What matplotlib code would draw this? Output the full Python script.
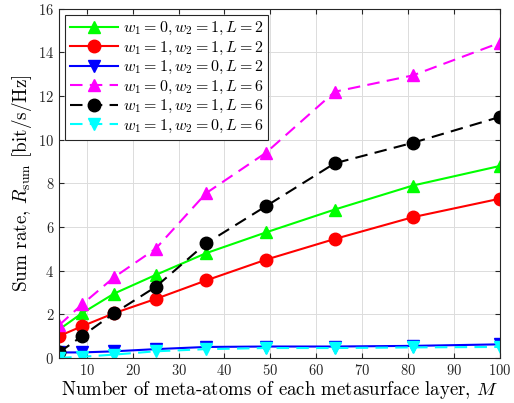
import matplotlib
matplotlib.use("Agg")
import matplotlib.pyplot as plt

plt.rcParams["font.family"] = ["cmr10", "DejaVu Serif"]
plt.rcParams["mathtext.fontset"] = "cm"
plt.rcParams["axes.formatter.use_mathtext"] = True

# number of meta-atoms per layer
M = [4, 9, 16, 25, 36, 49, 64, 81, 100]

# sum rate values (bit/s/Hz)
w01_L2 = [1.3, 2.05, 2.95, 3.8, 4.8, 5.75, 6.8, 7.9, 8.8]
w11_L2 = [1.0, 1.45, 2.05, 2.7, 3.55, 4.5, 5.45, 6.45, 7.3]
w10_L2 = [0.25, 0.25, 0.3, 0.4, 0.5, 0.52, 0.52, 0.55, 0.62]
w01_L6 = [1.5, 2.45, 3.7, 5.0, 7.55, 9.4, 12.2, 12.95, 14.45]
w11_L6 = [0.25, 1.0, 2.05, 3.25, 5.25, 6.95, 8.92, 9.86, 11.05]
w10_L6 = [0.0, 0.05, 0.15, 0.3, 0.4, 0.45, 0.45, 0.48, 0.5]

labels = [
    r"$w_1=0, w_2=1, L=2$",
    r"$w_1=1, w_2=1, L=2$",
    r"$w_1=1, w_2=0, L=2$",
    r"$w_1=0, w_2=1, L=6$",
    r"$w_1=1, w_2=1, L=6$",
    r"$w_1=1, w_2=0, L=6$",
]

fig = plt.figure(figsize=(5.14, 4.03), dpi=100)
ax = fig.add_axes([0.115, 0.112, 0.858, 0.866])

dash = (6, 3.5)
ax.plot(M, w01_L2, "-^", color="#00ff00", lw=1.5, ms=9, label=labels[0])
ax.plot(M, w11_L2, "-o", color="#ff0000", lw=1.5, ms=9, label=labels[1])
ax.plot(M, w10_L2, "-v", color="#0000ff", lw=1.5, ms=9, label=labels[2])
ax.plot(M, w01_L6, "--^", color="#ff00ff", lw=1.5, ms=9, dashes=dash, label=labels[3])
ax.plot(M, w11_L6, "--o", color="#000000", lw=1.5, ms=9, dashes=dash, label=labels[4])
ax.plot(M, w10_L6, "--v", color="#00ffff", lw=1.5, ms=9, dashes=dash, label=labels[5])

ax.set_xlim(4, 100)
ax.set_ylim(0, 16)
ax.set_xticks(range(10, 101, 10))
ax.set_yticks(range(0, 17, 2))
ax.tick_params(direction="in", labelsize=10.5, colors="#262626", top=True, right=True)
ax.grid(True, color="#dcdcdc", lw=0.7)
ax.set_axisbelow(True)
for s in ax.spines.values():
    s.set_color("#262626")
    s.set_linewidth(0.8)

ax.set_xlabel(r"Number of meta-atoms of each metasurface layer, $M$", fontsize=13.5, labelpad=1)
ax.set_ylabel(r"Sum rate, $R_{\rm sum}$ [bit/s/Hz]", fontsize=13.8, labelpad=3)

leg = ax.legend(loc="upper left", fontsize=11.5, handlelength=3.0, fancybox=False,
                edgecolor="#262626", framealpha=1, borderpad=0.3, labelspacing=0.15,
                handletextpad=0.3, borderaxespad=0.4)
leg.get_frame().set_linewidth(0.8)

fig.savefig("out.png", dpi=100)
